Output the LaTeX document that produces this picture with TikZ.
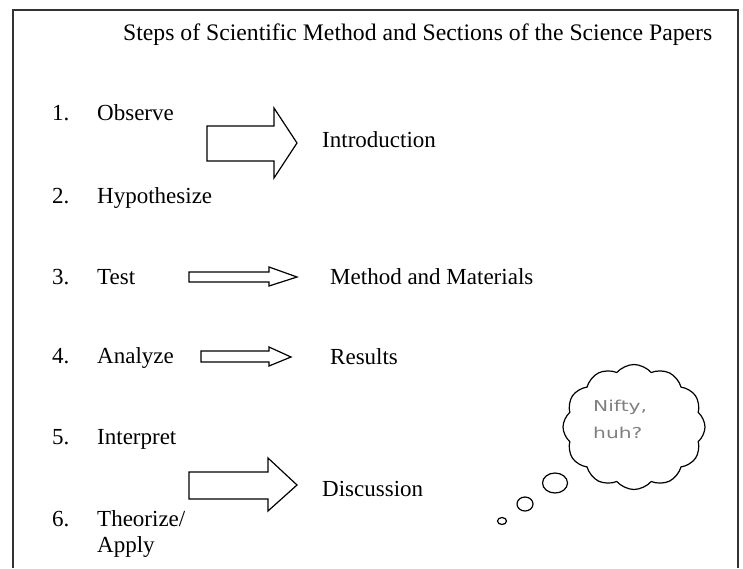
\documentclass[tikz,border=0pt]{standalone}
\usepackage{fontspec}
\setmainfont{Liberation Serif}
\newfontfamily\handfont{DejaVu Sans}
\usetikzlibrary{shapes.symbols}
\begin{document}
\begin{tikzpicture}[x=1pt,y=-1pt,
  lbl/.style={anchor=base west, inner sep=0pt, font=\fontsize{23}{25}\selectfont},
  blockarrow/.style={draw=black, line width=1.2pt, fill=white, line join=miter},
  frameline/.style={draw=black!80, line width=2pt},
  cloudtext/.style={anchor=base west, inner sep=0pt, text=black!50, font=\handfont\fontsize{15}{17}\selectfont},
  bubble/.style={draw=black, line width=1.2pt, fill=white}]
\useasboundingbox (0,0) rectangle (743,568);
% frame
\draw[frameline] (12.5,568) -- (12.5,10) -- (738,10) -- (738,568);
% title
\node[lbl, font=\fontsize{23.7}{26}\selectfont] (title) at (123,40) {Steps of Scientific Method and Sections of the Science Papers};
% steps
\node[lbl] (n1) at (52,120) {1.};
\node[lbl] (s1) at (97,120) {Observe};
\node[lbl] (n2) at (52,203) {2.};
\node[lbl] (s2) at (97,203) {Hypothesize};
\node[lbl] (n3) at (52,284) {3.};
\node[lbl] (s3) at (97,284) {Test};
\node[lbl] (n4) at (52,363) {4.};
\node[lbl] (s4) at (97,363) {Analyze};
\node[lbl] (n5) at (52,444) {5.};
\node[lbl] (s5) at (97,444) {Interpret};
\node[lbl] (n6) at (52,526) {6.};
\node[lbl] (s6) at (97,526) {Theorize/};
\node[lbl] (s6b) at (97,552) {Apply};
% sections
\node[lbl] (intro) at (322,147) {Introduction};
\node[lbl] (meth) at (330,284) {Method and Materials};
\node[lbl] (res) at (330,364) {Results};
\node[lbl] (disc) at (322,496) {Discussion};
% block arrows
\draw[blockarrow] (207,126) -- (274,126) -- (274,108) -- (297,143) -- (274,178) -- (274,161) -- (207,161) -- cycle;
\draw[blockarrow] (189,272) -- (269,272) -- (269,267) -- (297,277) -- (269,286) -- (269,282) -- (189,282) -- cycle;
\draw[blockarrow] (201,351) -- (269,351) -- (269,347) -- (291,357) -- (269,366) -- (269,362) -- (201,362) -- cycle;
\draw[blockarrow] (189,472) -- (268,472) -- (268,458) -- (297,485) -- (268,511) -- (268,499) -- (189,499) -- cycle;
% thought cloud
\node[cloud, cloud puffs=12, cloud puff arc=100, aspect=1.1, draw=black, line width=1.2pt, fill=white,
      minimum width=142pt, minimum height=125pt, inner sep=0pt] (cloud) at (634,427) {};
\node[cloudtext] (nifty) at (593,411) {\scalebox{1.35}[1]{Nifty,}};
\node[cloudtext] (huh) at (593,438) {\scalebox{1.35}[1]{huh?}};
\draw[bubble] (555,483) ellipse [x radius=12.5, y radius=10];
\draw[bubble] (525,504) ellipse [x radius=8, y radius=7];
\draw[bubble] (502,521) ellipse [x radius=4.5, y radius=3.5];
\end{tikzpicture}
\end{document}
